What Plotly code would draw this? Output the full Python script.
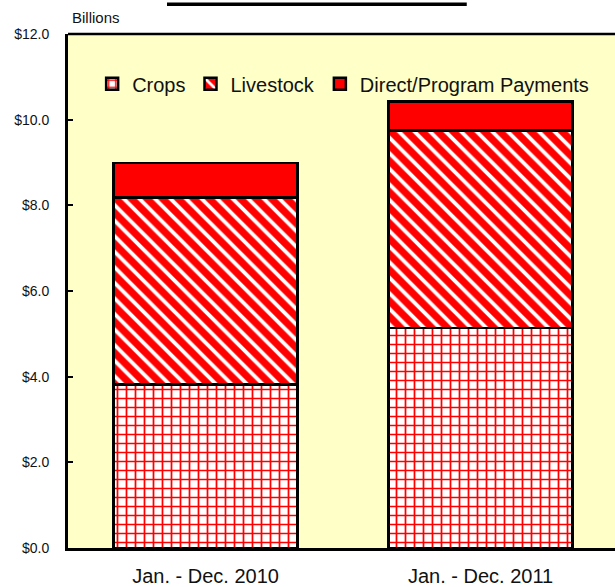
import plotly.graph_objects as go

# Data (billions of dollars)
periods = ["Jan. - Dec. 2010", "Jan. - Dec. 2011"]
crops = [3.82, 5.14]
livestock = [4.36, 4.61]
direct_payments = [0.81, 0.67]
y_ticks = [0, 2, 4, 6, 8, 10, 12]

RED = "#FF0000"
PLOT_BG = "#FFFFC8"

outline = dict(color="black", width=2.5)

fig = go.Figure()
fig.add_trace(go.Bar(
    x=periods, y=crops, name="Crops",
    marker=dict(color="white", line=outline,
                pattern=dict(shape="+", fgcolor=RED, bgcolor="white",
                             size=9, solidity=0.35, fillmode="replace")),
))
fig.add_trace(go.Bar(
    x=periods, y=livestock, name="Livestock",
    marker=dict(color=RED, line=outline,
                pattern=dict(shape="\\", fgcolor="white", bgcolor=RED,
                             size=11, solidity=0.35, fillmode="replace")),
))
fig.add_trace(go.Bar(
    x=periods, y=direct_payments, name="Direct/Program Payments",
    marker=dict(color=RED, line=outline),
))

fig.update_layout(
    width=615, height=587,
    barmode="stack",
    bargap=0.33,
    paper_bgcolor="white",
    plot_bgcolor=PLOT_BG,
    margin=dict(l=68, r=0, t=34, b=35),
    font=dict(family="Liberation Sans, Arial, sans-serif", color="#111111"),
    legend=dict(
        orientation="h", x=0.503, xanchor="center", y=0.903, yanchor="middle",
        bgcolor="rgba(0,0,0,0)", font=dict(size=20), traceorder="normal",
        itemwidth=30,
    ),
    showlegend=True,
)

fig.update_xaxes(
    range=[-0.5, 1.489],
    showline=True, linecolor="black", linewidth=3,
    ticks="", showgrid=False,
    tickfont=dict(size=20),
    ticklabelstandoff=8,
)
fig.update_yaxes(
    range=[0, 12], tickvals=y_ticks, tickformat="$.1f",
    showline=True, linecolor="black", linewidth=3,
    ticks="inside", ticklen=5, tickwidth=2, tickcolor="black",
    showgrid=False, zeroline=False,
    tickfont=dict(size=14),
    ticklabelstandoff=13,
)

# top border of the plot area and the short rule above it
fig.add_shape(type="line", xref="paper", yref="paper", x0=0, x1=1, y0=1, y1=1,
              line=dict(color="black", width=2.5))
fig.add_shape(type="line", xref="paper", yref="paper", x0=0.181, x1=0.729,
              y0=1.058, y1=1.058, line=dict(color="black", width=3.5))

fig.add_annotation(text="Billions", xref="paper", yref="paper", x=0.003, y=1.033,
                   xanchor="left", yanchor="middle", showarrow=False,
                   font=dict(size=15))

# drop the default page margin so the figure sits at the window's corner
fig.write_html("out.html", config={"displayModeBar": False},
               post_script="document.body.style.margin='0';")
